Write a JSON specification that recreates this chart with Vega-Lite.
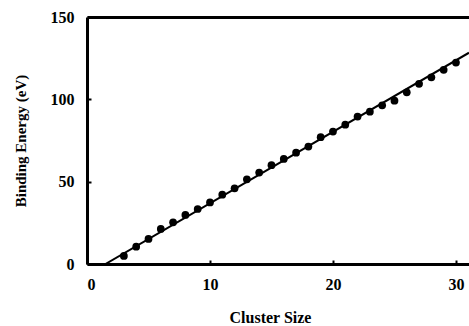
{
  "$schema": "https://vega.github.io/schema/vega-lite/v6.json",
  "width": 382,
  "height": 247,
  "autosize": {"type": "none"},
  "padding": {"left": 87, "top": 17, "right": 0, "bottom": 62},
  "background": "white",
  "config": {
    "view": {"stroke": null},
    "axis": {
      "labelFont": "Liberation Serif",
      "labelFontWeight": "bold",
      "labelFontSize": 16,
      "labelColor": "black",
      "titleFont": "Liberation Serif",
      "titleFontWeight": "bold",
      "titleFontSize": 15,
      "titleColor": "black",
      "domainColor": "black",
      "domainWidth": 3,
      "tickColor": "black",
      "tickWidth": 2,
      "grid": false
    }
  },
  "datasets": {
    "points": [
      {"size": 3, "energy": 4.9},
      {"size": 4, "energy": 10.5},
      {"size": 5, "energy": 15.2},
      {"size": 6, "energy": 21.3},
      {"size": 7, "energy": 25.3},
      {"size": 8, "energy": 29.8},
      {"size": 9, "energy": 33.4},
      {"size": 10, "energy": 37.4},
      {"size": 11, "energy": 42.1},
      {"size": 12, "energy": 46.0},
      {"size": 13, "energy": 51.4},
      {"size": 14, "energy": 55.5},
      {"size": 15, "energy": 60.0},
      {"size": 16, "energy": 63.8},
      {"size": 17, "energy": 67.6},
      {"size": 18, "energy": 71.3},
      {"size": 19, "energy": 77.0},
      {"size": 20, "energy": 80.4},
      {"size": 21, "energy": 84.6},
      {"size": 22, "energy": 89.5},
      {"size": 23, "energy": 92.5},
      {"size": 24, "energy": 96.4},
      {"size": 25, "energy": 99.2},
      {"size": 26, "energy": 104.3},
      {"size": 27, "energy": 109.4},
      {"size": 28, "energy": 113.4},
      {"size": 29, "energy": 117.9},
      {"size": 30, "energy": 122.3}
    ],
    "fit": [
      {"size": 1.5, "energy": 0},
      {"size": 31.06, "energy": 128.3}
    ]
  },
  "layer": [
    {
      "data": {"name": "fit"},
      "mark": {"type": "line", "color": "black", "strokeWidth": 2, "clip": true},
      "encoding": {
        "x": {
          "field": "size", "type": "quantitative",
          "scale": {"domain": [0, 31.06], "nice": false, "zero": false},
          "axis": {"orient": "top", "title": null, "labels": false, "ticks": false, "domainWidth": 3}
        },
        "y": {
          "field": "energy", "type": "quantitative",
          "scale": {"domain": [0, 150], "nice": false},
          "axis": {"orient": "left", "title": "Binding Energy (eV)", "values": [0, 50, 100, 150], "tickSize": -4, "labelPadding": 17, "titlePadding": 22}
        }
      }
    },
    {
      "data": {"name": "points"},
      "mark": {"type": "point", "filled": true, "color": "black", "opacity": 1, "size": 60},
      "encoding": {
        "x": {
          "field": "size", "type": "quantitative",
          "axis": {"orient": "bottom", "title": "Cluster Size", "titleFontSize": 16, "titleX": 183, "values": [0, 10, 20, 30], "tickSize": -4, "labelPadding": 16, "titlePadding": 17}
        },
        "y": {"field": "energy", "type": "quantitative"}
      }
    }
  ]
}
